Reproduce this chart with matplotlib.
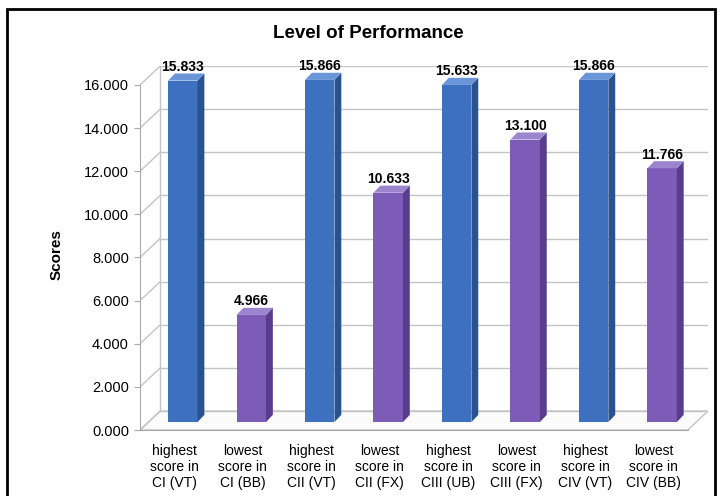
import matplotlib.pyplot as plt
from matplotlib.patches import Polygon, Rectangle

plt.rcParams['font.family'] = ['Liberation Sans', 'DejaVu Sans']

categories = ['highest\nscore in\nCI (VT)', 'lowest\nscore in\nCI (BB)',
              'highest\nscore in\nCII (VT)', 'lowest\nscore in\nCII (FX)',
              'highest\nscore in\nCIII (UB)', 'lowest\nscore in\nCIII (FX)',
              'highest\nscore in\nCIV (VT)', 'lowest\nscore in\nCIV (BB)']
scores = [15.833, 4.966, 15.866, 10.633, 15.633, 13.100, 15.866, 11.766]
yticks = [0, 2, 4, 6, 8, 10, 12, 14, 16]

blue = ('#3e70c0', '#2a5291', '#6a95d8')     # front, side, top
purple = ('#7c5cb6', '#573d8c', '#9c84cf')

# fake 3d depth (data units)
dx, dy = 0.295, 0.88          # wall depth
bx0, by0 = 0.125, 0.37        # bar front offset
bdx, bdy = 0.10, 0.33         # bar depth
w = 0.43
grid_c = '#c4c4c4'

fig = plt.figure(figsize=(7.18, 4.96), dpi=100)
ax = fig.add_axes([140 / 718, 66 / 496, 568 / 718, 364 / 496])
ax.set_xlim(-0.5, 7.5 + dx)
ax.set_ylim(0, 16 + dy)

# floor
ax.add_patch(Polygon([(-0.5, 0), (7.5, 0), (7.5 + dx, dy), (-0.5 + dx, dy)],
                     closed=True, fc='#fbfbfb', ec=grid_c, lw=1, zorder=1))
# back wall grid and left wall diagonals
for v in yticks:
    ax.plot([-0.5 + dx, 7.5 + dx], [v + dy, v + dy], color=grid_c, lw=1, zorder=1)
    ax.plot([-0.5, -0.5 + dx], [v, v + dy], color=grid_c, lw=1, zorder=1)
ax.plot([-0.5 + dx, -0.5 + dx], [dy, 16 + dy], color=grid_c, lw=1, zorder=1)

# bars
for i, v in enumerate(scores):
    front, side, top = blue if i % 2 == 0 else purple
    xc = i + bx0
    ax.bar(xc, v, width=w, bottom=by0, color=front, zorder=3, lw=0)
    xr = xc + w / 2
    xl = xc - w / 2
    ax.add_patch(Polygon([(xr, by0), (xr + bdx, by0 + bdy), (xr + bdx, v + by0 + bdy), (xr, v + by0)],
                         closed=True, fc=side, ec='none', zorder=3))
    ax.add_patch(Polygon([(xl, v + by0), (xr, v + by0), (xr + bdx, v + by0 + bdy), (xl + bdx, v + by0 + bdy)],
                         closed=True, fc=top, ec='none', zorder=3))
    ax.text(xc, v + by0 + 0.63, f'{v:.3f}', ha='center', va='center',
            fontsize=10, fontweight='bold', zorder=4)

for s in ['top', 'right']:
    ax.spines[s].set_visible(False)
ax.spines['left'].set_bounds(0, 16)
ax.spines['bottom'].set_bounds(-0.5, 7.5)
for s in ['left', 'bottom']:
    ax.spines[s].set_color('#a8a8a8')
ax.set_facecolor('none')

ax.set_yticks(yticks)
ax.set_yticklabels([f'{v:.3f}' for v in yticks])
ax.tick_params(axis='y', length=4, color='#a8a8a8', labelsize=10.5, pad=4)
ax.set_xticks(range(len(categories)))
ax.set_xticklabels(categories, fontsize=10, linespacing=1.2)
ax.tick_params(axis='x', length=0, pad=10)

fig.text(368 / 718, 1 - 33 / 496, 'Level of Performance', ha='center', va='center',
         fontsize=13.5, fontweight='bold')
fig.text(57 / 718, 1 - 255 / 496, 'Scores', ha='center', va='center', rotation=90,
         fontsize=11, fontweight='bold')

# outer frame
fig.patches.append(Rectangle((7 / 718, -0.01), 708 / 718, 1 - 9 / 496 + 0.01,
                             transform=fig.transFigure, fill=False, ec='black', lw=2))

fig.savefig('out.png', dpi=100)
